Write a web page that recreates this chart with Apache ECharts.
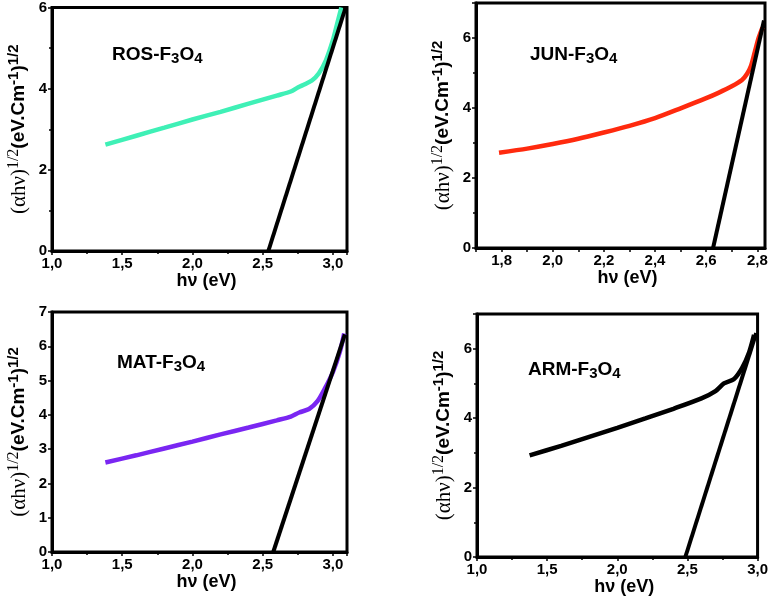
<!DOCTYPE html>
<html><head><meta charset="utf-8">
<script src="https://cdn.jsdelivr.net/npm/echarts@6/dist/echarts.min.js"></script>
<style>html,body{margin:0;padding:0;background:#fff}#c{width:771px;height:598px}</style>
</head><body><div id="c"></div>
<script>
// ROS-F3O4
const rosX = [1.38, 1.6, 1.8, 2.0, 2.2, 2.4, 2.6, 2.7, 2.75, 2.8, 2.85, 2.9, 2.95, 3.0, 3.03, 3.06];
const rosY = [2.62, 2.84, 3.04, 3.24, 3.43, 3.63, 3.83, 3.93, 4.03, 4.11, 4.2, 4.38, 4.7, 5.2, 5.6, 6.0];
const rosFitX = [2.54, 3.09];
const rosFitY = [0, 6];
// JUN-F3O4
const junX = [1.79, 1.9, 2.0, 2.1, 2.2, 2.3, 2.4, 2.5, 2.6, 2.65, 2.7, 2.74, 2.76, 2.775, 2.79, 2.805, 2.82];
const junY = [2.72, 2.84, 2.97, 3.12, 3.30, 3.49, 3.71, 3.99, 4.28, 4.44, 4.62, 4.80, 4.98, 5.2, 5.6, 6.0, 6.3];
const junFitX = [2.627, 2.826];
const junFitY = [0, 6.5];
// MAT-F3O4
const matX = [1.38, 1.6, 1.8, 2.0, 2.2, 2.4, 2.6, 2.7, 2.76, 2.83, 2.89, 2.94, 3.0, 3.05, 3.08];
const matY = [2.61, 2.82, 3.02, 3.22, 3.43, 3.63, 3.84, 3.95, 4.07, 4.17, 4.40, 4.75, 5.25, 5.85, 6.37];
const matFitX = [2.575, 3.085];
const matFitY = [0, 6.35];
// ARM-F3O4
const armX = [1.375, 1.6, 1.8, 2.0, 2.2, 2.4, 2.6, 2.7, 2.76, 2.83, 2.89, 2.94, 2.975];
const armY = [2.93, 3.20, 3.46, 3.72, 3.99, 4.27, 4.57, 4.78, 5.0, 5.12, 5.45, 5.9, 6.4];
const armFitX = [2.485, 2.99];
const armFitY = [0, 6.45];

const labels = ['ROS', 'JUN', 'MAT', 'ARM'];
const xTitle = 'hν (eV)';

const pair = (xs, ys) => xs.map((x, i) => [x, ys[i]]);
const SANS = 'Liberation Sans, Arial, sans-serif';
const SERIF = 'Liberation Serif, Times New Roman, serif';

const grids = [
  {left: 52, top: 6, width: 295, height: 245},
  {left: 476, top: 3, width: 289, height: 245},
  {left: 52, top: 312, width: 295, height: 240},
  {left: 477, top: 314, width: 285, height: 243}
].map(g => Object.assign({show: true, borderColor: '#000', borderWidth: 3, containLabel: false}, g));

const xSpecs = [
  {min: 1.0, max: 3.1, interval: 0.5, minor: 2},
  {min: 1.7, max: 2.83, interval: 0.1, minor: 0, even: true},
  {min: 1.0, max: 3.1, interval: 0.5, minor: 2},
  {min: 1.0, max: 3.0, interval: 0.5, minor: 2}
];
const ySpecs = [
  {min: 0, max: 6, interval: 2, minor: 2},
  {min: 0, max: 7, interval: 2, minor: 2},
  {min: 0, max: 7, interval: 1, minor: 0},
  {min: 0, max: 7, interval: 2, minor: 2}
];

const axisCommon = {
  axisLine: {show: true, lineStyle: {color: '#000', width: 3}},
  axisTick: {show: true, inside: false, length: 4, lineStyle: {color: '#000', width: 1.5}},
  splitLine: {show: false},
  axisLabel: {color: '#000', fontFamily: SANS, fontWeight: 'bold', fontSize: 15, margin: 5}
};

const xAxes = xSpecs.map((s, i) => Object.assign({}, axisCommon, {
  type: 'value', gridIndex: i, min: s.min, max: s.max, interval: s.interval,
  name: xTitle, nameLocation: 'middle', nameGap: 18,
  nameTextStyle: {color: '#000', fontFamily: SANS, fontWeight: 'bold', fontSize: 18, verticalAlign: 'top', padding: [0, 0, 0, 14]},
  minorTick: {show: s.minor > 0, splitNumber: s.minor || 5, length: 3, lineStyle: {color: '#000', width: 1.5}},
  axisLabel: Object.assign({}, axisCommon.axisLabel, {
    showMaxLabel: s.max === 3.0,
    formatter: v => {
      if (s.even && Math.round(v * 10) % 2 !== 0) return '';
      return v.toFixed(1).replace('.', ',');
    }
  })
}));

const yName = '{g|(αhν)}{gs|1/2}{b|(eV.Cm}{bs|-1}{b|)}{bs|1/2}';
const yRich = {
  g: {fontFamily: SERIF, fontSize: 21, color: '#000', lineHeight: 26, verticalAlign: 'middle'},
  gs: {fontFamily: SERIF, fontSize: 16, color: '#000', lineHeight: 16, verticalAlign: 'top'},
  b: {fontFamily: SANS, fontWeight: 'bold', fontSize: 19, color: '#000', lineHeight: 26, verticalAlign: 'middle'},
  bs: {fontFamily: SANS, fontWeight: 'bold', fontSize: 15, color: '#000', lineHeight: 15, verticalAlign: 'top'}
};

const yAxes = ySpecs.map((s, i) => Object.assign({}, axisCommon, {
  type: 'value', gridIndex: i, min: s.min, max: s.max, interval: s.interval,
  name: yName, nameLocation: 'middle', nameGap: 20, nameRotate: 90,
  nameTextStyle: {rich: yRich},
  minorTick: {show: s.minor > 0, splitNumber: s.minor || 5, length: 3, lineStyle: {color: '#000', width: 1.5}},
  axisLabel: Object.assign({}, axisCommon.axisLabel, {showMaxLabel: s.max % s.interval === 0})
}));

const curves = [[rosX, rosY, '#3ff0b6'], [junX, junY, '#ff2a0e'], [matX, matY, '#7a26f2'], [armX, armY, '#000000']];
const fits = [[rosFitX, rosFitY], [junFitX, junFitY], [matFitX, matFitY], [armFitX, armFitY]];

const series = [];
curves.forEach((c, i) => {
  series.push({type: 'line', xAxisIndex: i, yAxisIndex: i, data: pair(c[0], c[1]), showSymbol: false, smooth: 0.25,
    lineStyle: {color: c[2], width: 4.5}, itemStyle: {color: c[2]}, z: 2});
});
fits.forEach((f, i) => {
  series.push({type: 'line', xAxisIndex: i, yAxisIndex: i, data: pair(f[0], f[1]), showSymbol: false,
    lineStyle: {color: '#000', width: 4}, itemStyle: {color: '#000'}, z: 3});
});

const titlePos = [[112, 43], [530, 43], [117, 351], [528, 358]];
const titles = labels.map((l, i) => ({
  left: titlePos[i][0], top: titlePos[i][1], padding: 0,
  text: '{a|' + l + '-F}{s|3}{a|O}{s|4}',
  textStyle: {rich: {
    a: {fontFamily: SANS, fontWeight: 'bold', fontSize: 19, color: '#000', lineHeight: 23, verticalAlign: 'middle'},
    s: {fontFamily: SANS, fontWeight: 'bold', fontSize: 15, color: '#000', lineHeight: 15, verticalAlign: 'bottom'}
  }}
}));

const chart = echarts.init(document.getElementById('c'), null, {renderer: 'canvas'});
chart.setOption({
  animation: false,
  backgroundColor: '#fff',
  title: titles,
  grid: grids,
  xAxis: xAxes,
  yAxis: yAxes,
  series: series
});
</script></body></html>
